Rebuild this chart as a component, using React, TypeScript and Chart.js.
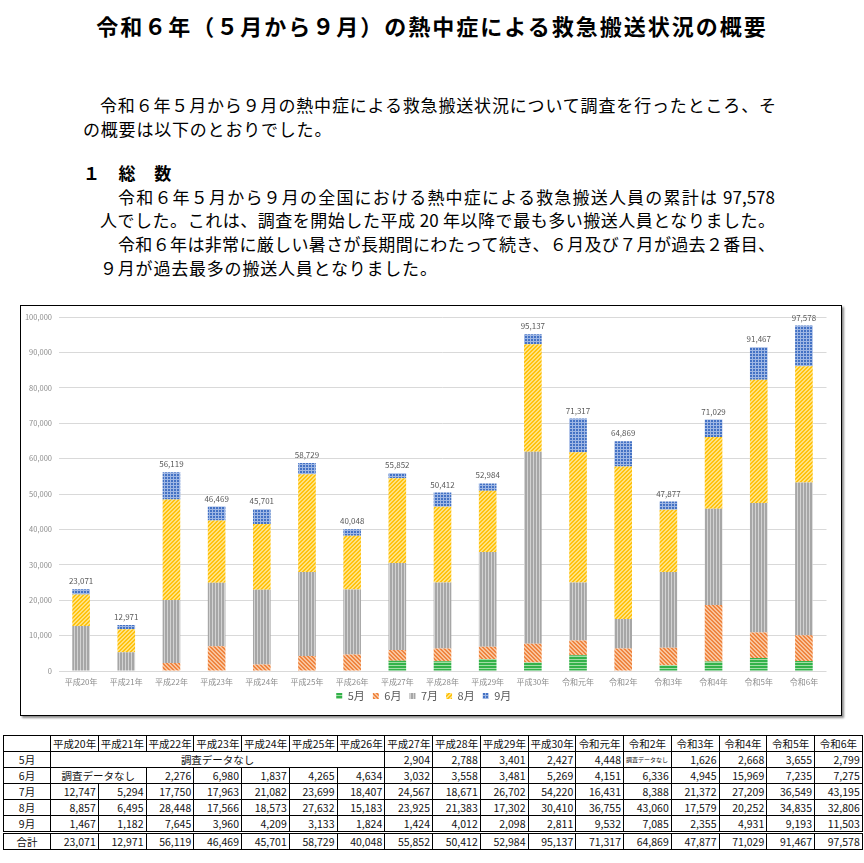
import React, { useEffect, useRef } from "react";
import { Chart, registerables } from "chart.js";

Chart.register(...registerables);

const categories = [
  "平成20年", "平成21年", "平成22年", "平成23年", "平成24年", "平成25年", "平成26年",
  "平成27年", "平成28年", "平成29年", "平成30年", "令和元年", "令和2年", "令和3年",
  "令和4年", "令和5年", "令和6年",
];
const seriesNames = ["5月", "6月", "7月", "8月", "9月"];
const may = [null, null, null, null, null, null, null, 2904, 2788, 3401, 2427, 4448, null, 1626, 2668, 3655, 2799];
const june = [null, null, 2276, 6980, 1837, 4265, 4634, 3032, 3558, 3481, 5269, 4151, 6336, 4945, 15969, 7235, 7275];
const july = [12747, 5294, 17750, 17963, 21082, 23699, 18407, 24567, 18671, 26702, 54220, 16431, 8388, 21372, 27209, 36549, 43195];
const august = [8857, 6495, 28448, 17566, 18573, 27632, 15183, 23925, 21383, 17302, 30410, 36755, 43060, 17579, 20252, 34835, 32806];
const september = [1467, 1182, 7645, 3960, 4209, 3133, 1824, 1424, 4012, 2098, 2811, 9532, 7085, 2355, 4931, 9193, 11503];
const totals = [23071, 12971, 56119, 46469, 45701, 58729, 40048, 55852, 50412, 52984, 95137, 71317, 64869, 47877, 71029, 91467, 97578];
const noDataLabel = "調査データなし";
const totalRowLabel = "合計";
const yMin = 0;
const yMax = 100000;
const yStep = 10000;

const titleText = "令和６年（５月から９月）の熱中症による救急搬送状況の概要";
const para1 = [
  "令和６年５月から９月の熱中症による救急搬送状況について調査を行ったところ、そ",
  "の概要は以下のとおりでした。",
];
const heading = "１　総　数";
const para2 = [
  "令和６年５月から９月の全国における熱中症による救急搬送人員の累計は 97,578",
  "人でした。これは、調査を開始した平成 20 年以降で最も多い搬送人員となりました。",
  "令和６年は非常に厳しい暑さが長期間にわたって続き、６月及び７月が過去２番目、",
  "９月が過去最多の搬送人員となりました。",
];

const FONT = "'Noto Sans CJK JP', 'Noto Sans', sans-serif";

type Kind = "h" | "v" | "fwd" | "back" | "grid";

function makePattern(ctx: CanvasRenderingContext2D, kind: Kind, bg: string, fg: string) {
  const size = kind === "fwd" || kind === "back" ? 4 : 3;
  const c = document.createElement("canvas");
  c.width = size;
  c.height = size;
  const g = c.getContext("2d")!;
  g.fillStyle = bg;
  g.fillRect(0, 0, size, size);
  g.fillStyle = fg;
  for (let y = 0; y < size; y++) {
    for (let x = 0; x < size; x++) {
      let on = false;
      if (kind === "h") on = y === size - 1;
      else if (kind === "v") on = x === size - 1;
      else if (kind === "grid") on = x === size - 1 || y === size - 1;
      else if (kind === "fwd") on = (x + y) % size < 2;
      else on = (x - y + size) % size < 2;
      if (on) g.fillRect(x, y, 1, 1);
    }
  }
  return ctx.createPattern(c, "repeat") as CanvasPattern;
}

function ChartBox() {
  const ref = useRef<HTMLCanvasElement>(null);
  useEffect(() => {
    const canvas = ref.current!;
    const ctx = canvas.getContext("2d")!;
    const patterns = [
      makePattern(ctx, "h", "#33B24A", "#A3DDA6"),
      makePattern(ctx, "back", "#F9C49C", "#EF843F"),
      makePattern(ctx, "v", "#A6A6A6", "#D2D2D2"),
      makePattern(ctx, "fwd", "#FFC20E", "#FFE281"),
      makePattern(ctx, "grid", "#4472C4", "#9FB7E4"),
    ];
    const seriesData = [may, june, july, august, september];
    const totalLabels = {
      id: "totalLabels",
      afterLayout(chart: any) {
        const lg = chart.legend;
        if (lg) {
          const h = lg.bottom - lg.top;
          lg.top = chart.chartArea.bottom + 11.5;
          lg.bottom = lg.top + h;
        }
      },
      afterDatasetsDraw(chart: any) {
        const c = chart.ctx;
        const xs = chart.scales.x;
        const ys = chart.scales.y;
        c.save();
        c.font = `8px ${FONT}`;
        c.fillStyle = "#595959";
        c.textAlign = "center";
        c.textBaseline = "bottom";
        totals.forEach((t, i) => {
          c.fillText(t.toLocaleString("en-US"), xs.getPixelForValue(i), ys.getPixelForValue(t) - 4);
        });
        c.restore();
      },
    };
    const chart = new Chart(canvas, {
      type: "bar",
      data: {
        labels: categories,
        datasets: seriesNames.map((name, k) => ({
          label: name,
          data: seriesData[k] as any,
          backgroundColor: patterns[k],
          borderWidth: 0,
          stack: "s",
          barPercentage: 0.39,
          categoryPercentage: 1,
        })),
      },
      options: {
        animation: false,
        responsive: false,
        layout: { padding: { left: 0, right: 14.5, top: 9, bottom: 0 } },
        plugins: {
          legend: {
            position: "bottom",
            labels: {
              boxWidth: 6,
              boxHeight: 6,
              padding: 8,
              color: "#595959",
              font: { size: 11, family: FONT },
            },
          },
          tooltip: { enabled: false },
        },
        scales: {
          x: {
            stacked: true,
            grid: { display: false, drawTicks: false },
            border: { display: false },
            ticks: {
              color: "#8C8C8C",
              font: { size: 8, family: FONT },
              padding: 6,
              maxRotation: 0,
              autoSkip: false,
            },
            afterFit(scale: any) {
              scale.height = 18;
            },
          },
          y: {
            stacked: true,
            min: yMin,
            max: yMax,
            grid: { color: "#D9D9D9", lineWidth: 1, drawTicks: false },
            border: { display: false },
            ticks: {
              stepSize: yStep,
              color: "#8C8C8C",
              font: { size: 7.5, family: FONT },
              padding: 6.5,
              callback: (v: any) => Number(v).toLocaleString("en-US"),
            },
            afterFit(scale: any) {
              scale.width = 37.5;
            },
          },
        },
      },
      plugins: [totalLabels],
    });
    return () => chart.destroy();
  }, []);
  return (
    <div
      style={{
        position: "absolute",
        left: 20,
        top: 305,
        width: 820,
        height: 409,
        border: "1px solid #000",
        boxShadow: "2px 2px 2px rgba(0,0,0,0.45)",
        background: "#fff",
        overflow: "hidden",
      }}
    >
      <canvas ref={ref} width={820} height={412} style={{ display: "block", width: 820, height: 412 }} />
    </div>
  );
}

function Line(props: { x: number; y: number; w?: number; text: string; bold?: boolean; size?: number; ls?: number }) {
  const size = props.size ?? 17;
  const justify = props.w !== undefined;
  return (
    <div
      style={{
        position: "absolute",
        left: props.x,
        top: props.y - 12,
        width: props.w,
        height: 24,
        lineHeight: "24px",
        fontSize: size,
        fontWeight: props.bold ? 700 : 400,
        letterSpacing: props.ls ?? (justify ? 0 : 0.8),
        textAlign: justify ? "justify" : "left",
        textAlignLast: justify ? "justify" : "auto",
        whiteSpace: justify ? "normal" : "nowrap",
        color: "#000",
      } as any}
    >
      {props.text}
    </div>
  );
}

function DataTable() {
  const rows: [string, (number | null)[]][] = [
    [seriesNames[0], may],
    [seriesNames[1], june],
    [seriesNames[2], july],
    [seriesNames[3], august],
    [seriesNames[4], september],
  ];
  const td: React.CSSProperties = {
    border: "1px solid #000",
    padding: "0 2px",
    height: 15,
    lineHeight: "15px",
    whiteSpace: "nowrap",
    overflow: "hidden",
  };
  const num: React.CSSProperties = { ...td, textAlign: "right" };
  const center: React.CSSProperties = { ...td, textAlign: "center" };
  const cells = (values: (number | null)[], extra?: React.CSSProperties) => {
    const out: React.ReactNode[] = [];
    let i = 0;
    while (i < values.length) {
      if (values[i] == null) {
        let j = i;
        while (j < values.length && values[j] == null) j++;
        const span = j - i;
        out.push(
          <td
            key={i}
            colSpan={span}
            style={span > 1 ? { ...center, ...extra } : { ...td, textAlign: "left", fontSize: 6, ...extra }}
          >
            {noDataLabel}
          </td>
        );
        i = j;
      } else {
        out.push(
          <td key={i} style={{ ...num, ...extra }}>
            {(values[i] as number).toLocaleString("en-US")}
          </td>
        );
        i++;
      }
    }
    return out;
  };
  const topBorder: React.CSSProperties = { borderTop: "3px double #000" };
  return (
    <table
      style={{
        position: "absolute",
        left: 3,
        top: 735,
        width: 859,
        borderCollapse: "collapse",
        tableLayout: "fixed",
        fontFamily: FONT,
        fontSize: 10.5,
        color: "#111",
      }}
    >
      <colgroup>
        <col style={{ width: 47 }} />
        {categories.map((c) => (
          <col key={c} style={{ width: 47.76 }} />
        ))}
      </colgroup>
      <tbody>
        <tr>
          <td style={center}></td>
          {categories.map((c) => (
            <td key={c} style={center}>
              {c}
            </td>
          ))}
        </tr>
        {rows.map(([name, vals]) => (
          <tr key={name}>
            <td style={center}>{name}</td>
            {cells(vals)}
          </tr>
        ))}
        <tr>
          <td style={{ ...center, ...topBorder }}>{totalRowLabel}</td>
          {cells(totals, topBorder)}
        </tr>
      </tbody>
    </table>
  );
}

export default function App() {
  return (
    <div
      style={{
        position: "absolute",
        left: 0,
        top: 0,
        width: 864,
        height: 863,
        background: "#fff",
        fontFamily: FONT,
        overflow: "hidden",
      }}
    >
      <div
        style={{
          position: "absolute",
          left: 0,
          top: 10,
          width: 864,
          textAlign: "center",
          fontSize: 22,
          fontWeight: 700,
          lineHeight: "30px",
          letterSpacing: 2,
        }}
      >
        {titleText}
      </div>
      <Line x={100} y={105} w={676} text={para1[0]} />
      <Line x={83} y={129} text={para1[1]} />
      <Line x={83} y={173} text={heading} bold />
      <Line x={118} y={197} w={657} text={para2[0]} />
      <Line x={100} y={220} w={675} text={para2[1]} />
      <Line x={118} y={244} w={657} text={para2[2]} />
      <Line x={100} y={268} text={para2[3]} />
      <ChartBox />
      <DataTable />
    </div>
  );
}
